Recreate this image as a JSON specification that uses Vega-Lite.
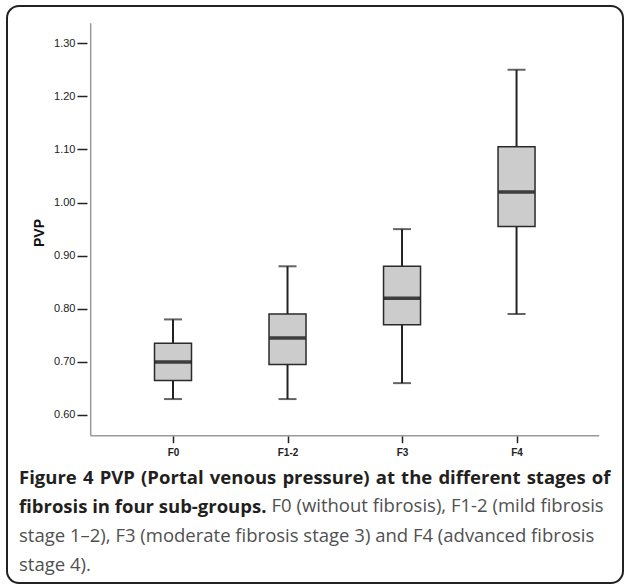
{
  "$schema": "https://vega.github.io/schema/vega-lite/v6.json",
  "width": 616,
  "height": 577,
  "autosize": {"type": "none"},
  "padding": {"left": 7, "top": 6, "right": 1, "bottom": 2},
  "background": "white",
  "config": {
    "view": {"stroke": "#222222", "strokeWidth": 2, "cornerRadius": 12, "fill": "white"}
  },
  "title": {
    "text": ["Figure\u20044\u2004PVP\u2004(Portal\u2004venous\u2004pressure)\u2004at\u2004the\u2004different\u2004stages\u2004of", "fibrosis in four sub-groups."],
    "subtitle": ["stage 1\u20132), F3 (moderate fibrosis stage 3) and F4 (advanced fibrosis", "stage 4)."],
    "orient": "bottom",
    "anchor": "start",
    "frame": "group",
    "offset": -114,
    "dx": 12,
    "font": "Open Sans",
    "fontSize": 18.5,
    "fontWeight": "bold",
    "color": "#231f20",
    "lineHeight": 29,
    "subtitleFont": "Open Sans",
    "subtitleFontSize": 18.5,
    "subtitleFontWeight": "normal",
    "subtitleColor": "#505050",
    "subtitleLineHeight": 29,
    "subtitlePadding": 10.5
  },
  "data": {
    "values": [
      {"group": "F0", "min": 0.63, "q1": 0.665, "median": 0.70, "q3": 0.735, "max": 0.78},
      {"group": "F1-2", "min": 0.63, "q1": 0.695, "median": 0.745, "q3": 0.79, "max": 0.88},
      {"group": "F3", "min": 0.66, "q1": 0.77, "median": 0.82, "q3": 0.88, "max": 0.95},
      {"group": "F4", "min": 0.79, "q1": 0.955, "median": 1.02, "q3": 1.105, "max": 1.25}
    ]
  },
  "transform": [
    {"calculate": "indexof(['F0','F1-2','F3','F4'], datum.group) + 1", "as": "idx"}
  ],
  "layer": [
    {
      "mark": {"type": "rule", "color": "#222222", "strokeWidth": 2},
      "encoding": {
        "x": {
          "field": "idx",
          "type": "quantitative",
          "scale": {"domain": [-0.406, 4.886], "nice": false, "zero": false},
          "axis": {
            "orient": "bottom",
            "offset": -147.3,
            "domain": false,
            "grid": false,
            "values": [1, 2, 3, 4],
            "labelExpr": "['','F0','F1-2','F3','F4'][datum.value]",
            "tickSize": 7,
            "tickColor": "#222222",
            "tickWidth": 1.5,
            "labelFont": "Liberation Sans",
            "labelFontSize": 10,
            "labelFontWeight": "bold",
            "labelColor": "#222222",
            "labelPadding": 5,
            "title": "F0 (without fibrosis), F1-2 (mild fibrosis",
            "titleFont": "Open Sans",
            "titleFontSize": 18.5,
            "titleFontWeight": "normal",
            "titleColor": "#505050",
            "titleAlign": "left",
            "titleBaseline": "alphabetic",
            "titleX": 264,
            "titleY": 76
          }
        },
        "y": {
          "field": "min",
          "type": "quantitative",
          "scale": {"domain": [0.2836, 1.3702], "nice": false, "zero": false},
          "axis": {
            "orient": "left",
            "offset": -80,
            "domain": false,
            "grid": false,
            "values": [0.6, 0.7, 0.8, 0.9, 1.0, 1.1, 1.2, 1.3],
            "format": ".2f",
            "tickSize": 10,
            "tickColor": "#222222",
            "tickWidth": 1.5,
            "labelFont": "Liberation Sans",
            "labelFontSize": 11,
            "labelColor": "#222222",
            "labelPadding": 2,
            "title": "PVP",
            "titleFont": "Liberation Sans",
            "titleFontSize": 14,
            "titleFontWeight": "bold",
            "titleColor": "#111111",
            "titleX": -44,
            "titleY": 226.5,
            "titleBaseline": "alphabetic"
          }
        },
        "y2": {"field": "max"}
      }
    },
    {
      "mark": {"type": "bar", "size": 37, "fill": "#cccccc", "stroke": "#2a2a2a", "strokeWidth": 1.5},
      "encoding": {
        "x": {"field": "idx", "type": "quantitative"},
        "y": {"field": "q1", "type": "quantitative"},
        "y2": {"field": "q3"}
      }
    },
    {
      "mark": {"type": "tick", "orient": "horizontal", "size": 36, "thickness": 3.5, "color": "#000000"},
      "encoding": {
        "x": {"field": "idx", "type": "quantitative"},
        "y": {"field": "median", "type": "quantitative"}
      }
    },
    {
      "mark": {"type": "tick", "orient": "horizontal", "size": 18, "thickness": 2, "color": "#222222"},
      "encoding": {
        "x": {"field": "idx", "type": "quantitative"},
        "y": {"field": "min", "type": "quantitative"}
      }
    },
    {
      "mark": {"type": "tick", "orient": "horizontal", "size": 18, "thickness": 2, "color": "#222222"},
      "encoding": {
        "x": {"field": "idx", "type": "quantitative"},
        "y": {"field": "max", "type": "quantitative"}
      }
    },
    {
      "data": {"values": [{}]},
      "mark": {"type": "rule", "color": "#999999", "strokeWidth": 1.5},
      "encoding": {
        "x": {"datum": 0.281, "type": "quantitative"},
        "y": {"datum": 0.561, "type": "quantitative"},
        "y2": {"datum": 1.3377}
      }
    },
    {
      "data": {"values": [{}]},
      "mark": {"type": "rule", "color": "#999999", "strokeWidth": 1.5},
      "encoding": {
        "x": {"datum": 0.281, "type": "quantitative"},
        "x2": {"datum": 4.722},
        "y": {"datum": 0.561, "type": "quantitative"}
      }
    }
  ]
}
